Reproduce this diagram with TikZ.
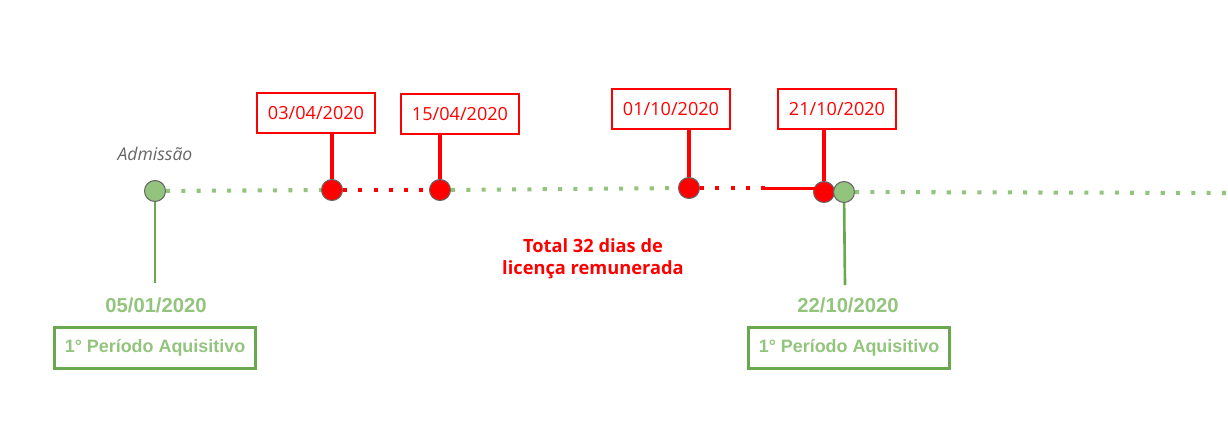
\documentclass[tikz,border=0pt]{standalone}
\usepackage{fontspec}
\setmainfont{Open Sans}
\newfontfamily\arialfont{Liberation Sans}
\usepackage{xcolor}
\usepackage{tikz}
\definecolor{gline}{HTML}{6AA84F}
\definecolor{gfill}{HTML}{93C47D}
\definecolor{rline}{HTML}{FF0000}
\definecolor{dgray}{HTML}{666666}

\begin{document}
\begin{tikzpicture}[x=0.02cm,y=-0.02cm,
  gdot/.style={circle, draw=dgray, fill=gfill, line width=0.6pt, minimum size=0.42cm, inner sep=0pt},
  rdot/.style={circle, draw=dgray, fill=rline, line width=0.6pt, minimum size=0.42cm, inner sep=0pt},
  rbox/.style={draw=rline, line width=1.2pt, fill=white, text=rline, minimum width=2.36cm, minimum height=0.8cm, font=\fontsize{10.3}{12}\selectfont},
  gbox/.style={draw=gline, line width=1.2pt, text=gfill, minimum width=4.02cm, minimum height=0.82cm, font=\arialfont\bfseries\fontsize{10.2}{12}\selectfont},
  gdate/.style={text=gfill, font=\arialfont\bfseries\fontsize{11.5}{13}\selectfont},
  gdots/.style={gfill, line width=2.3pt, dash pattern=on 2.3pt off 6.4pt},
  rdots/.style={rline, line width=2.3pt, dash pattern=on 2.3pt off 6.4pt},
  rstem/.style={rline, line width=2pt},
  gstem/.style={gline, line width=1.5pt}]
\useasboundingbox (0,0) rectangle (1228,434);
\coordinate (end) at (1228,193);
\coordinate (rsolid) at (765,188);
\coordinate (stemA) at (155,283);
\coordinate (stemB) at (845,285);
\node[gdot] (adm) at (155,191) {};
\node[rdot] (ra) at (332,190) {};
\node[rdot] (rb) at (440,190) {};
\node[rdot] (rc) at (689,188) {};
\node[rdot] (rd) at (824,192) {};
\node[gdot] (fim) at (844,192) {};
\node[rbox] (da) at (316,113) {03/04/2020};
\node[rbox] (db) at (460,114) {15/04/2020};
\node[rbox] (dc) at (671,109) {01/10/2020};
\node[rbox] (dd) at (837,109) {21/10/2020};
\node[text=dgray, font=\itshape\fontsize{10}{12}\selectfont] (admlabel) at (155,154) {Admissão};
\node[gdate] (dateA) at (156,305) {05/01/2020};
\node[gdate] (dateB) at (848,305) {22/10/2020};
\node[gbox] (perA) at (155,348) {1° Período Aquisitivo};
\node[gbox] (perB) at (849,348) {1° Período Aquisitivo};
\node[text=rline, font=\bfseries\fontsize{10.4}{12.5}\selectfont, align=center] (total) at (593,259) {Total 32 dias de\\licença remunerada};
\draw[gdots] (adm) -- (ra);
\draw[rdots] (ra) -- (rb);
\draw[gdots] (rb) -- (rc);
\draw[rdots] (rc) -- (rsolid);
\draw[rline, line width=1.7pt] (rsolid) -- (rd.north west |- rsolid);
\draw[gdots] (fim) -- (end);
\draw[rstem] (da.south -| ra) -- (ra);
\draw[rstem] (db.south -| rb) -- (rb);
\draw[rstem] (dc.south -| rc) -- (rc);
\draw[rstem] (dd.south -| rd) -- (rd);
\draw[gstem] (adm) -- (stemA);
\draw[gstem] (fim) -- (stemB);
\end{tikzpicture}
\end{document}
